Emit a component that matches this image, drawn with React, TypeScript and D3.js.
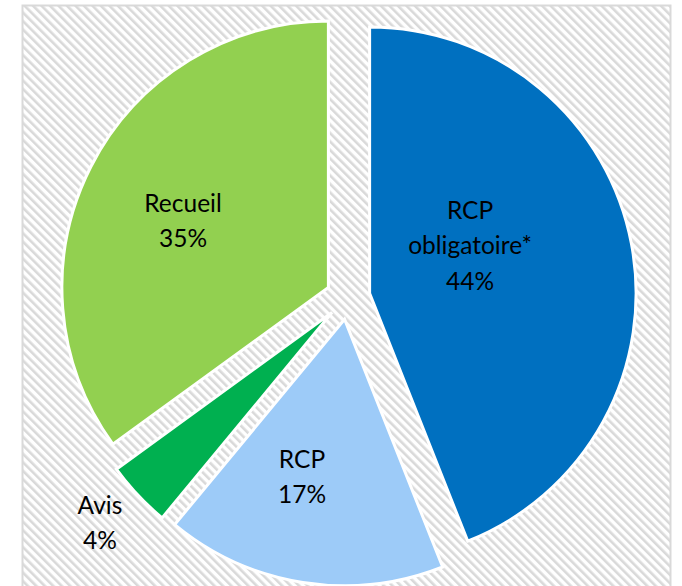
import React from 'react';
import * as d3 from 'd3';

// slice data, clockwise from 12 o'clock
const categories = ['RCP obligatoire*', 'RCP', 'Avis', 'Recueil'];
const shares = [44, 17, 4, 35];
const labelLines = [['RCP', 'obligatoire*', '44%'], ['RCP', '17%'], ['Avis', '4%'], ['Recueil', '35%']];
const colors = ['#0070C0', '#9DCBF8', '#00B050', '#92D050'];

const width = 682;
const height = 586;

interface Slice {
  name: string;
  value: number;
  lines: string[];
  color: string;
}

const slices: Slice[] = categories.map((name, i) => ({
  name,
  value: shares[i],
  lines: labelLines[i],
  color: colors[i],
}));

const App: React.FC = () => {
  const cx = 348;
  const cy = 297.5;
  const radius = 266.5;
  const explode = 22;
  // where each label sits, measured from the exploded slice tip:
  // fraction of radius + angle tweak off the bisector (degrees)
  const labelR = [0.417, 0.613, 1.175, 0.6];
  const labelShift = [-14.5, 6.1, 1, -2.4];
  const lineH = 35.5;

  const pie = d3
    .pie<Slice>()
    .value((d) => d.value)
    .sort(null);
  const arcs = pie(slices);
  const arc = d3.arc<d3.PieArcDatum<Slice>>().innerRadius(0).outerRadius(radius);

  return (
    <svg
      width={width}
      height={height}
      style={{ position: 'absolute', left: 0, top: 0, fontFamily: 'Lato, sans-serif' }}
    >
      <defs>
        <pattern id="diag" width={6} height={6} patternUnits="userSpaceOnUse" patternTransform="rotate(-45)">
          <rect width={6} height={6} fill="#ffffff" />
          <rect x={0} y={0} width={2.6} height={6} fill="#d9d9d9" />
        </pattern>
      </defs>
      <rect x={0} y={0} width={width} height={height} fill="#ffffff" />
      <rect x={22.5} y={5.5} width={648} height={620} fill="url(#diag)" stroke="#d9d9d9" strokeWidth={2} />

      {arcs.map((a) => {
        const mid = (a.startAngle + a.endAngle) / 2;
        const ox = cx + explode * Math.sin(mid);
        const oy = cy - explode * Math.cos(mid);
        return (
          <path
            key={a.data.name}
            d={arc(a) || ''}
            transform={`translate(${ox},${oy})`}
            fill={a.data.color}
            stroke="#ffffff"
            strokeWidth={3}
          />
        );
      })}

      {arcs.map((a, i) => {
        const mid = (a.startAngle + a.endAngle) / 2;
        const ang = mid + (labelShift[i] * Math.PI) / 180;
        const lx = cx + explode * Math.sin(mid) + radius * labelR[i] * Math.sin(ang);
        const ly = cy - explode * Math.cos(mid) - radius * labelR[i] * Math.cos(ang);
        const n = a.data.lines.length;
        return (
          <text key={a.data.name} textAnchor="middle" fontSize={24.5} fill="#000000">
            {a.data.lines.map((t, j) => (
              <tspan key={j} x={lx} y={ly + (j - (n - 1) / 2) * lineH} dy="0.35em">
                {t}
              </tspan>
            ))}
          </text>
        );
      })}
    </svg>
  );
};

export default App;
